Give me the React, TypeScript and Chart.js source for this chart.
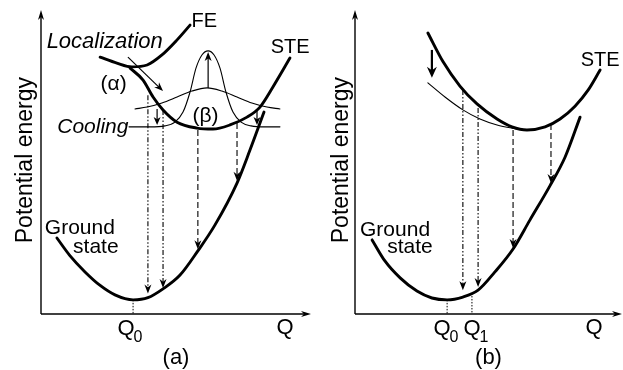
import React, { useEffect, useRef } from "react";
import { Chart, registerables } from "chart.js";
Chart.register(...registerables);

type P = { x: number; y: number };
type Txt = { x: number; y: number; text: string; size: number; italic?: boolean };
type Arrow = { x1: number; y1: number; x2: number; y2: number; dash: number[]; width: number; head: number };
type Tick = { x: number; top: number; labelX: number; sub: string };

const FONT = '"Liberation Sans", Arial, Helvetica, sans-serif';
const DASH_DOT = [5, 2, 1.5, 2, 1.5, 2];
const DASHED = [6, 3];

// ---------- Panel (a) ----------
const groundA: P[] = [
  { x: 5.9, y: 24.2 }, { x: 10.7, y: 18.6 }, { x: 16.3, y: 13.4 }, { x: 21.9, y: 9.1 },
  { x: 27.4, y: 6.1 }, { x: 34.1, y: 4.5 }, { x: 39.6, y: 5.2 }, { x: 45.2, y: 8.0 },
  { x: 51.5, y: 12.4 }, { x: 58.1, y: 20.1 }, { x: 64.4, y: 28.3 }, { x: 72.6, y: 41.7 },
  { x: 77.4, y: 52.2 }, { x: 82.6, y: 64.3 },
];
const feA: P[] = [
  { x: 21.9, y: 81.8 }, { x: 28.1, y: 79.9 }, { x: 33.7, y: 78.7 }, { x: 39.3, y: 79.3 },
  { x: 44.8, y: 82.5 }, { x: 50.4, y: 87.3 }, { x: 55.2, y: 92.0 },
];
const steA: P[] = [
  { x: 33.0, y: 78.3 }, { x: 37.8, y: 74.5 }, { x: 41.5, y: 69.1 }, { x: 45.2, y: 65.0 },
  { x: 50.4, y: 61.1 }, { x: 57.8, y: 59.2 }, { x: 63.7, y: 58.9 }, { x: 70.0, y: 60.2 },
  { x: 76.3, y: 62.7 }, { x: 81.1, y: 65.9 }, { x: 85.9, y: 72.3 }, { x: 92.2, y: 81.5 },
];
const broadWaveA: P[] = [
  { x: 34.8, y: 65.3 }, { x: 39.3, y: 65.9 }, { x: 44.8, y: 67.2 }, { x: 50.4, y: 69.1 },
  { x: 55.9, y: 71.0 }, { x: 61.5, y: 72.0 }, { x: 67.0, y: 71.0 }, { x: 72.6, y: 69.1 },
  { x: 78.1, y: 67.2 }, { x: 83.7, y: 65.9 }, { x: 88.5, y: 65.3 },
];
const narrowWaveA: P[] = [
  { x: 32.6, y: 59.6 }, { x: 40.4, y: 59.6 }, { x: 45.9, y: 59.9 }, { x: 49.6, y: 61.1 },
  { x: 52.6, y: 64.3 }, { x: 55.2, y: 70.7 }, { x: 57.4, y: 78.3 }, { x: 59.6, y: 82.5 },
  { x: 61.9, y: 83.8 }, { x: 64.1, y: 82.5 }, { x: 66.3, y: 78.3 }, { x: 68.5, y: 70.7 },
  { x: 71.1, y: 64.3 }, { x: 74.1, y: 61.1 }, { x: 77.8, y: 59.9 }, { x: 83.0, y: 59.6 },
  { x: 88.5, y: 59.6 },
];
const arrowsA: Arrow[] = [
  { x1: 32.2, y1: 81.8, x2: 45.2, y2: 71.0, dash: [], width: 1.2, head: 9 },
  { x1: 61.9, y1: 72.0, x2: 61.9, y2: 83.4, dash: [], width: 1.2, head: 9 },
  { x1: 43.0, y1: 65.3, x2: 43.0, y2: 60.2, dash: [], width: 1.2, head: 8 },
  { x1: 80.0, y1: 65.3, x2: 80.0, y2: 60.2, dash: [], width: 1.2, head: 8 },
  { x1: 39.6, y1: 69.7, x2: 39.6, y2: 6.5, dash: DASH_DOT, width: 1.1, head: 9 },
  { x1: 45.2, y1: 65.0, x2: 45.2, y2: 8.3, dash: DASH_DOT, width: 1.1, head: 9 },
  { x1: 58.1, y1: 58.6, x2: 58.1, y2: 20.6, dash: DASHED, width: 1.1, head: 9 },
  { x1: 72.6, y1: 60.8, x2: 72.6, y2: 42.4, dash: DASHED, width: 1.1, head: 9 },
];
const textsA: Txt[] = [
  { x: 60.5, y: 93.3, text: "FE", size: 20 },
  { x: 23.6, y: 86.6, text: "Localization", size: 22, italic: true },
  { x: 26.9, y: 73.2, text: "(α)", size: 21 },
  { x: 60.9, y: 63.1, text: "(β)", size: 21 },
  { x: 19.2, y: 59.6, text: "Cooling", size: 21, italic: true },
  { x: 92.3, y: 85.0, text: "STE", size: 20 },
  { x: 14.4, y: 27.4, text: "Ground", size: 21 },
  { x: 20.3, y: 21.3, text: "state", size: 21 },
];
const ticksA: Tick[] = [{ x: 34.1, top: 4.5, labelX: 31.5, sub: "0" }];

// ---------- Panel (b) ----------
const groundB: P[] = [
  { x: 6.4, y: 23.6 }, { x: 11.2, y: 16.9 }, { x: 16.9, y: 11.5 }, { x: 23.2, y: 7.3 },
  { x: 28.8, y: 5.1 }, { x: 34.5, y: 4.5 }, { x: 40.4, y: 5.4 }, { x: 46.1, y: 7.6 },
  { x: 52.4, y: 13.4 }, { x: 59.2, y: 20.7 }, { x: 65.5, y: 29.9 }, { x: 73.0, y: 40.8 },
  { x: 78.7, y: 50.0 }, { x: 84.3, y: 62.7 },
];
const steB: P[] = [
  { x: 27.3, y: 89.5 }, { x: 33.0, y: 80.3 }, { x: 39.3, y: 72.6 }, { x: 45.7, y: 66.9 },
  { x: 53.2, y: 62.1 }, { x: 58.8, y: 59.6 }, { x: 64.4, y: 58.6 }, { x: 71.2, y: 59.6 },
  { x: 76.8, y: 62.1 }, { x: 82.4, y: 66.2 }, { x: 87.3, y: 71.3 }, { x: 91.8, y: 77.7 },
];
const steThinB: P[] = [
  { x: 27.3, y: 73.6 }, { x: 33.7, y: 69.1 }, { x: 40.4, y: 65.0 }, { x: 46.8, y: 62.1 },
  { x: 53.2, y: 60.2 }, { x: 58.8, y: 59.2 }, { x: 63.7, y: 58.6 },
];
const arrowsB: Arrow[] = [
  { x1: 28.8, y1: 84.1, x2: 28.8, y2: 75.2, dash: [], width: 2.2, head: 11 },
  { x1: 40.4, y1: 71.3, x2: 40.4, y2: 7.6, dash: DASH_DOT, width: 1.1, head: 9 },
  { x1: 46.1, y1: 65.6, x2: 46.1, y2: 8.6, dash: DASH_DOT, width: 1.1, head: 9 },
  { x1: 59.2, y1: 58.6, x2: 59.2, y2: 21.0, dash: DASHED, width: 1.1, head: 9 },
  { x1: 73.4, y1: 60.5, x2: 73.4, y2: 41.7, dash: DASHED, width: 1.1, head: 9 },
];
const textsB: Txt[] = [
  { x: 91.8, y: 80.6, text: "STE", size: 20 },
  { x: 15.0, y: 26.8, text: "Ground", size: 21 },
  { x: 20.6, y: 21.3, text: "state", size: 21 },
];
const ticksB: Tick[] = [
  { x: 34.5, top: 4.5, labelX: 32.6, sub: "0" },
  { x: 43.8, top: 6.7, labelX: 43.8, sub: "1" },
];

type Cfg = {
  curves: { data: P[]; width: number }[];
  arrows: Arrow[];
  texts: Txt[];
  ticks: Tick[];
  caption: string;
  padLeft: number;
  padRight: number;
  yLabelGap: number;
  qLabelX: number;
};

const panelA: Cfg = {
  curves: [
    { data: groundA, width: 2.9 }, { data: feA, width: 2.9 }, { data: steA, width: 2.9 },
    { data: broadWaveA, width: 1.1 }, { data: narrowWaveA, width: 1.1 },
  ],
  arrows: arrowsA, texts: textsA, ticks: ticksA, caption: "(a)",
  padLeft: 41, padRight: 0, yLabelGap: 9, qLabelX: 90.4,
};
const panelB: Cfg = {
  curves: [
    { data: groundB, width: 2.9 }, { data: steB, width: 2.9 }, { data: steThinB, width: 1.1 },
  ],
  arrows: arrowsB, texts: textsB, ticks: ticksB, caption: "(b)",
  padLeft: 44, padRight: 1, yLabelGap: 7, qLabelX: 89.5,
};

function head(ctx: CanvasRenderingContext2D, x1: number, y1: number, x2: number, y2: number, len: number, half: number) {
  const a = Math.atan2(y2 - y1, x2 - x1);
  const c = Math.cos(a), s = Math.sin(a);
  const bx = x2 - c * len, by = y2 - s * len;
  const nx = x2 - c * len * 0.7, ny = y2 - s * len * 0.7;
  ctx.setLineDash([]);
  ctx.beginPath();
  ctx.moveTo(x2, y2);
  ctx.lineTo(bx - s * half, by + c * half);
  ctx.lineTo(nx, ny);
  ctx.lineTo(bx + s * half, by - c * half);
  ctx.closePath();
  ctx.fill();
}

function overlay(cfg: Cfg) {
  return {
    id: "overlay",
    afterDraw(chart: any) {
      const ctx: CanvasRenderingContext2D = chart.ctx;
      const xs = chart.scales.x, ys = chart.scales.y;
      const X = (v: number) => xs.getPixelForValue(v);
      const Y = (v: number) => ys.getPixelForValue(v);
      ctx.save();
      ctx.strokeStyle = "#000";
      ctx.fillStyle = "#000";
      const ox = X(0), oy = Y(0);
      // axes
      ctx.lineWidth = 1.4;
      ctx.setLineDash([]);
      const yTop = Y(96.8), xEnd = chart.chartArea.right;
      ctx.beginPath(); ctx.moveTo(ox, oy); ctx.lineTo(ox, yTop + 4); ctx.stroke();
      head(ctx, ox, oy, ox, yTop, 10, 3);
      ctx.beginPath(); ctx.moveTo(ox, oy); ctx.lineTo(xEnd - 4, oy); ctx.stroke();
      head(ctx, ox, oy, xEnd, oy, 10, 3);
      // y label
      ctx.save();
      ctx.translate(ox - cfg.yLabelGap, Y(49));
      ctx.rotate(-Math.PI / 2);
      ctx.font = `23px ${FONT}`;
      ctx.textAlign = "center";
      ctx.textBaseline = "alphabetic";
      ctx.fillText("Potential energy", 0, 0);
      ctx.restore();
      // texts
      ctx.textAlign = "center";
      ctx.textBaseline = "middle";
      for (const t of cfg.texts) {
        ctx.font = `${t.italic ? "italic " : ""}${t.size}px ${FONT}`;
        ctx.fillText(t.text, X(t.x), Y(t.y));
      }
      // arrows
      for (const a of cfg.arrows) {
        const x1 = X(a.x1), y1 = Y(a.y1), x2 = X(a.x2), y2 = Y(a.y2);
        const ang = Math.atan2(y2 - y1, x2 - x1);
        ctx.lineWidth = a.width;
        ctx.setLineDash(a.dash);
        ctx.beginPath();
        ctx.moveTo(x1, y1);
        ctx.lineTo(x2 - Math.cos(ang) * a.head * 0.6, y2 - Math.sin(ang) * a.head * 0.6);
        ctx.stroke();
        head(ctx, x1, y1, x2, y2, a.head, a.width > 2 ? 5 : 3.5);
      }
      // ticks + labels
      ctx.lineWidth = 1;
      for (const t of cfg.ticks) {
        ctx.setLineDash([1.5, 1.5]);
        ctx.beginPath(); ctx.moveTo(X(t.x), Y(t.top)); ctx.lineTo(X(t.x), oy); ctx.stroke();
        ctx.setLineDash([]);
        ctx.font = `22px ${FONT}`;
        ctx.textAlign = "center";
        ctx.textBaseline = "alphabetic";
        const qx = X(t.labelX);
        ctx.fillText("Q", qx, oy + 21);
        const w = ctx.measureText("Q").width;
        ctx.font = `16px ${FONT}`;
        ctx.textAlign = "left";
        ctx.fillText(t.sub, qx + w / 2 - 1, oy + 28);
      }
      ctx.font = `22px ${FONT}`;
      ctx.textAlign = "center";
      ctx.textBaseline = "alphabetic";
      ctx.fillText("Q", X(cfg.qLabelX), oy + 20);
      ctx.fillText(cfg.caption, X(50), oy + 50);
      ctx.restore();
    },
  };
}

function Panel({ cfg, width }: { cfg: Cfg; width: number }) {
  const ref = useRef<HTMLCanvasElement>(null);
  useEffect(() => {
    const chart = new Chart(ref.current as HTMLCanvasElement, {
      type: "line",
      data: {
        datasets: cfg.curves.map((c) => ({
          data: c.data,
          borderColor: "#000",
          borderWidth: c.width,
          borderCapStyle: "round",
          pointRadius: 0,
          fill: false,
          cubicInterpolationMode: "monotone",
          clip: false,
        })) as any,
      },
      options: {
        animation: false,
        responsive: false,
        devicePixelRatio: 1,
        events: [],
        layout: { padding: { left: cfg.padLeft, right: cfg.padRight, top: 0, bottom: 56 } },
        scales: {
          x: { type: "linear", min: 0, max: 100, display: false },
          y: { type: "linear", min: 0, max: 100, display: false },
        },
        plugins: { legend: { display: false }, tooltip: { enabled: false } },
      },
      plugins: [overlay(cfg)],
    });
    return () => chart.destroy();
  }, [cfg]);
  return <canvas ref={ref} width={width} height={370} style={{ display: "block", width, height: 370 }} />;
}

export default function App() {
  return (
    <div style={{ position: "fixed", left: 0, top: 0, width: 623, height: 370, background: "#fff", display: "flex" }}>
      <Panel cfg={panelA} width={311} />
      <Panel cfg={panelB} width={312} />
    </div>
  );
}
